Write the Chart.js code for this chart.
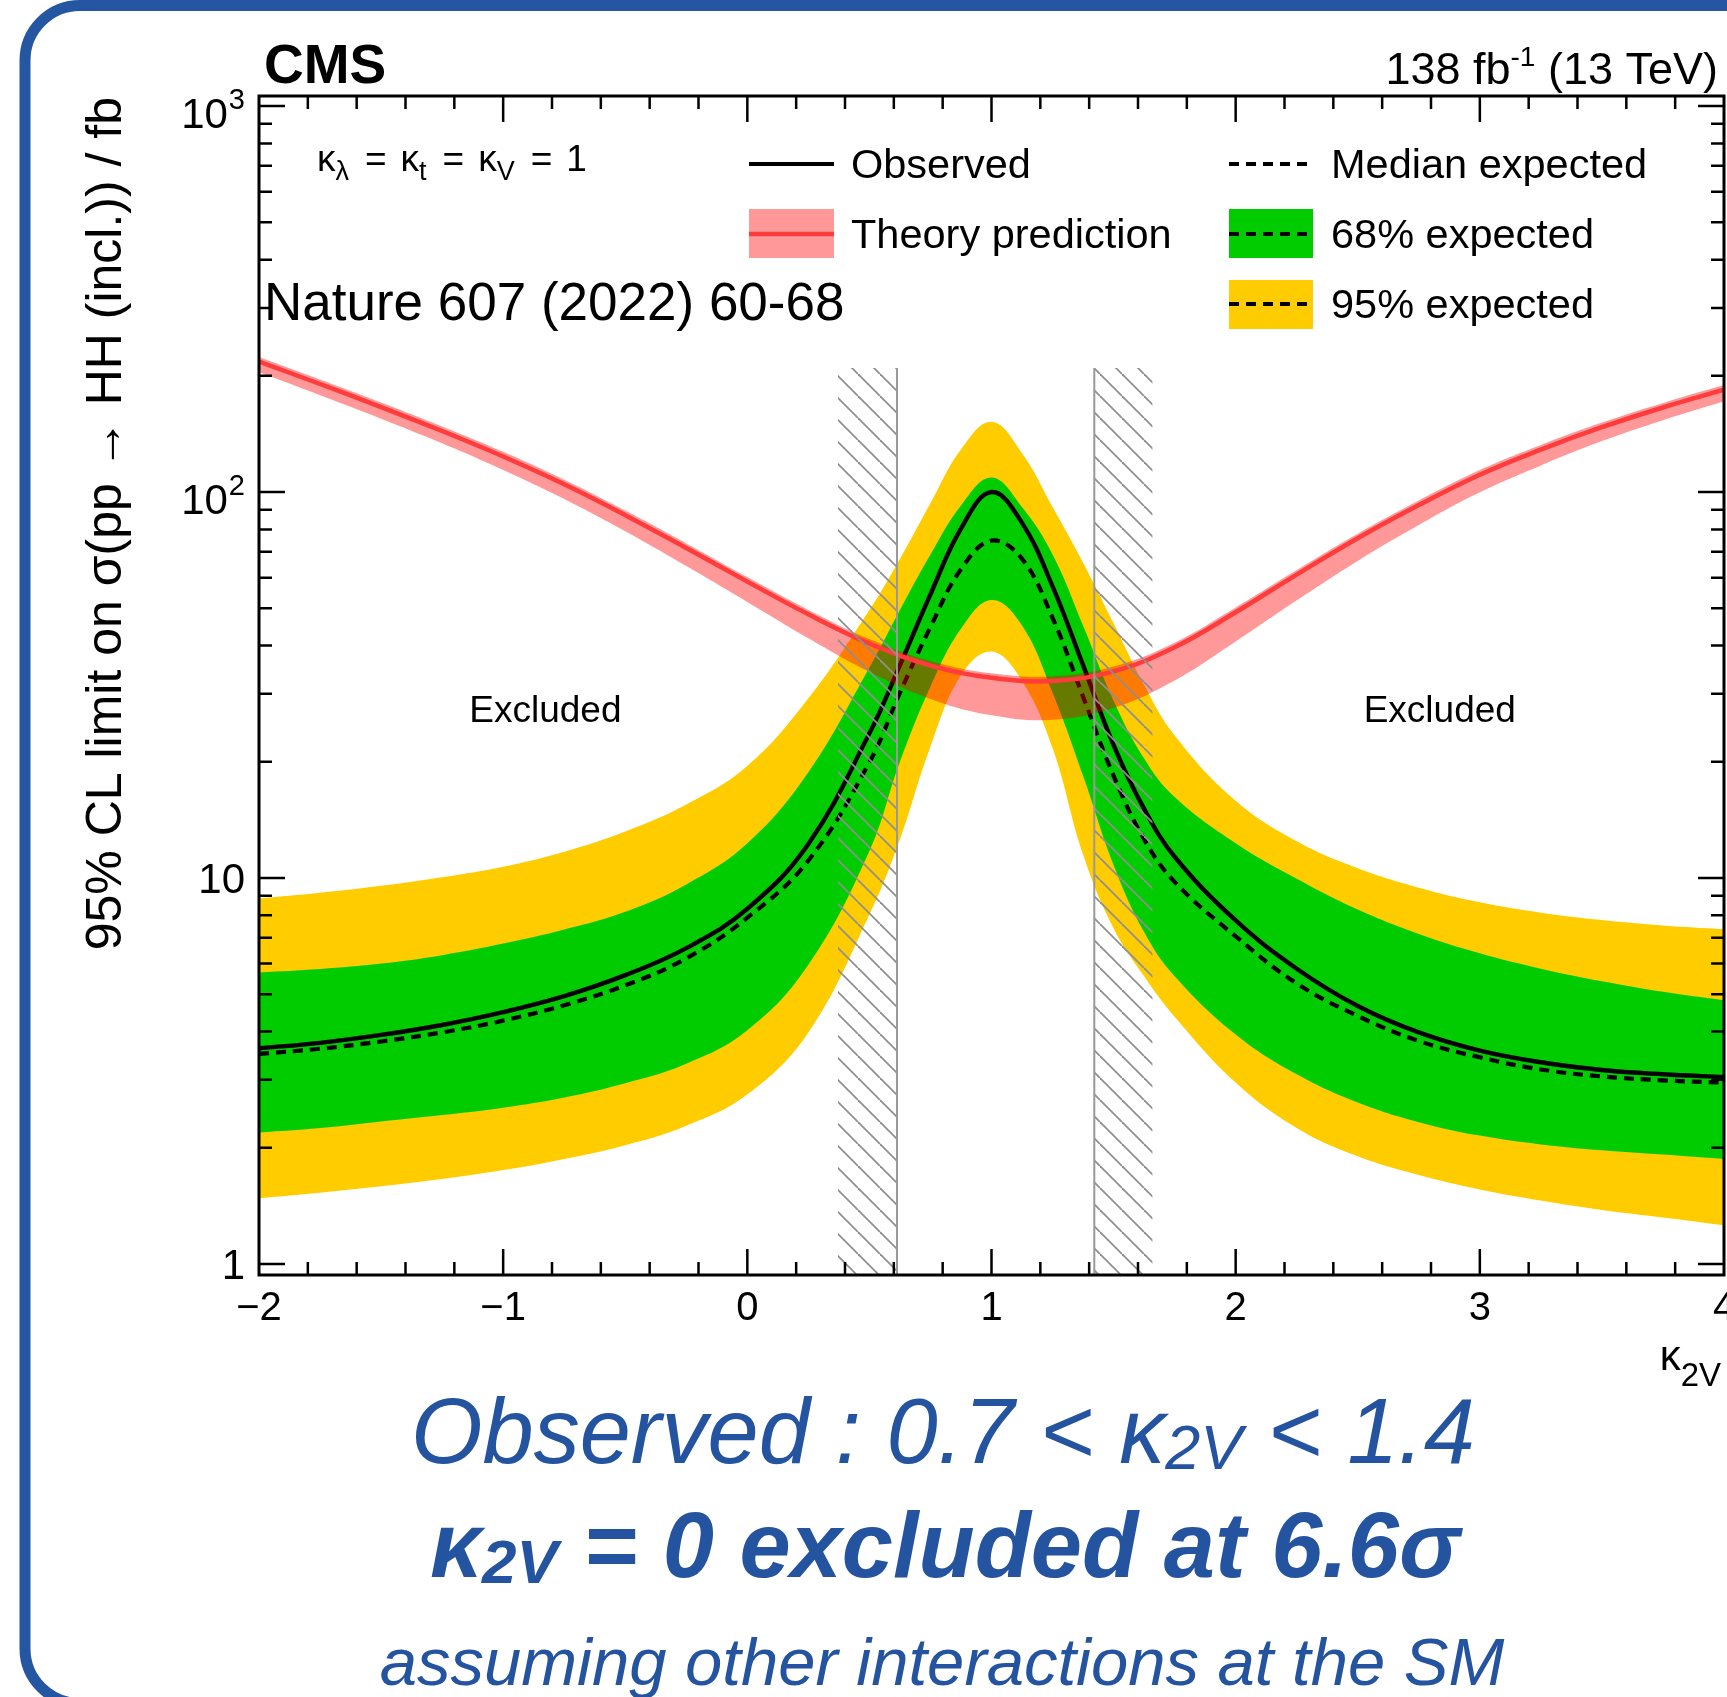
<!DOCTYPE html>
<html>
<head>
<meta charset="utf-8">
<title>HH limit vs kappa_2V</title>
<script src="https://cdn.jsdelivr.net/npm/chart.js@4.4.1/dist/chart.umd.min.js"></script>
<style>
  html, body { margin: 0; padding: 0; background: #fff; }
  #wrap { width: 1727px; height: 1697px; }
  canvas { display: block; }
</style>
</head>
<body>
<div id="wrap"><canvas id="limitChart" width="1727" height="1697"></canvas></div>
<script>
// --- DATA: 95% CL upper limits on sigma(pp -> HH) in fb vs kappa_2V ---
const kappa2V   = [-2, -1.75, -1.5, -1.25, -1, -0.75, -0.5, -0.25, 0, 0.25, 0.5, 0.625, 0.75, 0.875, 1,
                   1.125, 1.25, 1.375, 1.5, 1.625, 1.75, 2, 2.25, 2.5, 2.75, 3, 3.25, 3.5, 3.75, 4];
const observed  = [3.62, 3.74, 3.92, 4.16, 4.49, 4.94, 5.60, 6.58, 8.32, 12.25, 23.7, 35.6, 54.3, 80.4, 100,
                   83.2, 57.0, 35.6, 22.1, 15.1, 11.35, 7.76, 5.82, 4.66, 3.98, 3.57, 3.33, 3.18, 3.10, 3.05];
const expMedian = [3.50, 3.61, 3.77, 3.98, 4.27, 4.68, 5.27, 6.19, 7.89, 11.1, 19.95, 30.2, 44.7, 63.1, 74.8,
                   67.1, 47.2, 29.5, 18.4, 12.6, 9.77, 7.06, 5.33, 4.39, 3.78, 3.43, 3.19, 3.06, 2.99, 2.95];
const exp68Up   = [5.69, 5.81, 6.0, 6.31, 6.76, 7.35, 8.17, 9.62, 12.3, 18.8, 35.1, 49.5, 68.9, 92.3, 109,
                   91.4, 68.9, 45.1, 28.8, 20.4, 16.2, 12.3, 9.95, 8.28, 7.16, 6.38, 5.82, 5.40, 5.07, 4.82];
const exp68Down = [2.19, 2.25, 2.34, 2.43, 2.54, 2.70, 2.94, 3.30, 4.03, 5.96, 11.75, 20.0, 31.3, 44.2, 52.5,
                   45.1, 30.2, 18.4, 10.8, 7.24, 5.56, 3.93, 3.10, 2.62, 2.33, 2.15, 2.04, 1.97, 1.92, 1.87];
const exp95Up   = [8.85, 9.16, 9.55, 10.05, 10.7, 11.7, 13.2, 15.5, 19.5, 29.2, 49.5, 67.1, 93.5, 128.8, 152,
                   126, 91.4, 65.6, 45.7, 31.6, 23.4, 15.85, 12.45, 10.6, 9.44, 8.65, 8.13, 7.78, 7.53, 7.36];
const exp95Down = [1.48, 1.53, 1.59, 1.66, 1.75, 1.87, 2.03, 2.28, 2.75, 3.98, 8.04, 12.6, 21.9, 33.5, 38.6,
                   32.4, 21.7, 11.5, 7.41, 5.56, 4.37, 2.95, 2.25, 1.90, 1.70, 1.56, 1.46, 1.38, 1.32, 1.26];

// theory cross section (central value and uncertainty band)
const theoryKappa = [-2, -1.75, -1.5, -1.25, -1, -0.75, -0.5, -0.25, 0, 0.25, 0.5, 0.75, 1,
                     1.25, 1.5, 1.75, 2, 2.25, 2.5, 2.75, 3, 3.25, 3.5, 3.75, 4];
const theoryXs    = [217.8, 190.5, 166.0, 143.9, 123.6, 104.7, 87.1, 71.6, 58.6, 48.2, 40.5, 35.5, 33.0,
                     32.4, 34.3, 39.6, 48.8, 61.1, 75.9, 92.5, 110.9, 128.8, 147.2, 165.6, 184.1];
const theoryUp    = [223.9, 195.8, 170.6, 147.9, 127.1, 107.6, 89.5, 73.6, 60.2, 49.5, 41.6, 36.5, 33.9,
                     33.3, 35.3, 40.7, 50.2, 62.8, 78.0, 95.1, 114.0, 132.4, 151.3, 170.2, 189.3];
const theoryDown  = [204.2, 178.2, 154.9, 133.7, 114.0, 95.9, 79.1, 64.3, 51.9, 41.8, 34.2, 29.1, 26.4,
                     25.7, 27.6, 32.5, 41.0, 52.4, 66.3, 82.1, 99.8, 117.2, 135.5, 153.5, 171.8];

// observed crossing points and the hatched side of each
const excludedEdges = [0.613, 1.421];
const hatchLeft  = [0.371, 0.613];
const hatchRight = [1.421, 1.660];
const hatchTop   = 209.5;

// axes
const xRange = [-2, 4];
const yRange = [0.936, 1062];
const xTickLabels = ['\u22122', '\u22121', '0', '1', '2', '3', '4'];
const yMajorTicks = [1, 10, 100, 1000];
const yTickLabels = [['1', ''], ['10', ''], ['10', '2'], ['10', '3']];

const legendLeft  = ['Observed', 'Theory prediction'];
const legendRight = ['Median expected', '68% expected', '95% expected'];

// --- STYLE ---
const SANS = '"Liberation Sans", Arial, Helvetica, sans-serif';
const BLUE = '#2453a0';
const YELLOW = '#ffcc00';
const GREEN = '#00cc00';
const PINK = 'rgba(255, 0, 0, 0.4)';
const RED = '#ff3b3b';

function makeHatch() {
    const s = 22;
    const c = document.createElement('canvas');
    c.width = s; c.height = s;
    const g = c.getContext('2d');
    g.strokeStyle = '#8f8f8f';
    g.lineWidth = 1.8;
    for (const o of [-s, 0, s]) {
        g.beginPath();
        g.moveTo(o, 0);
        g.lineTo(o + s, s);
        g.stroke();
    }
    return g.createPattern(c, 'repeat');
}

const pts = (xs, ys) => xs.map((x, i) => ({ x: x, y: ys[i] }));
const curve = { pointRadius: 0, tension: 0.4, fill: false, borderWidth: 0 };
const hatch = makeHatch();

// --- TEXT HELPERS ---
function richWidth(ctx, parts) {
    let w = 0;
    for (const p of parts) { ctx.font = p.font; w += ctx.measureText(p.t).width + (p.dx || 0); }
    return w;
}

function drawRich(ctx, parts, x, y, align) {
    const w = richWidth(ctx, parts);
    let cx = align === 'right' ? x - w : (align === 'center' ? x - w / 2 : x);
    ctx.textAlign = 'left';
    ctx.textBaseline = 'alphabetic';
    for (const p of parts) {
        ctx.font = p.font;
        cx += p.dx || 0;
        ctx.fillText(p.t, cx, y + (p.dy || 0));
        cx += ctx.measureText(p.t).width;
    }
}

// --- FRAME, TICKS, LABELS ---
function drawSlideBorder(ctx) {
    ctx.save();
    ctx.strokeStyle = '#2556a1';
    ctx.lineWidth = 11;
    ctx.beginPath();
    ctx.roundRect(25, 5.5, 1800, 1698, 55);
    ctx.stroke();
    ctx.restore();
}

function drawFrameAndTicks(chart) {
    const { ctx, chartArea: a, scales } = chart;
    const sx = scales.x, sy = scales.y;
    ctx.save();
    ctx.strokeStyle = '#000';
    ctx.lineWidth = 2.5;
    ctx.beginPath();
    for (let i = 1; i < 30; i++) {
        const v = xRange[0] + i * 0.2;
        const px = sx.getPixelForValue(v);
        const len = i % 5 === 0 ? 26 : 13;
        ctx.moveTo(px, a.bottom); ctx.lineTo(px, a.bottom - len);
        ctx.moveTo(px, a.top); ctx.lineTo(px, a.top + len);
    }
    for (let d = 0; d <= 3; d++) {
        for (let m = 1; m <= 9; m++) {
            const v = m * Math.pow(10, d);
            if (v > yRange[1]) break;
            const py = sy.getPixelForValue(v);
            const len = m === 1 ? 26 : 13;
            ctx.moveTo(a.left, py); ctx.lineTo(a.left + len, py);
            ctx.moveTo(a.right, py); ctx.lineTo(a.right - len, py);
        }
    }
    ctx.stroke();
    ctx.lineWidth = 3;
    ctx.strokeRect(a.left, a.top, a.right - a.left, a.bottom - a.top);
    ctx.restore();
}

function drawLegend(ctx) {
    ctx.save();
    // observed
    ctx.strokeStyle = '#000'; ctx.lineWidth = 4.2;
    ctx.beginPath(); ctx.moveTo(749, 164); ctx.lineTo(834, 164); ctx.stroke();
    // theory
    ctx.fillStyle = PINK; ctx.fillRect(749, 209, 85, 49);
    ctx.strokeStyle = RED; ctx.lineWidth = 4.5;
    ctx.beginPath(); ctx.moveTo(749, 234); ctx.lineTo(834, 234); ctx.stroke();
    // expected
    ctx.fillStyle = GREEN; ctx.fillRect(1229, 209, 84, 49);
    ctx.fillStyle = YELLOW; ctx.fillRect(1229, 280, 84, 49);
    ctx.strokeStyle = '#000'; ctx.lineWidth = 4.2; ctx.setLineDash([10, 7]);
    for (const yy of [164, 234, 304]) {
        ctx.beginPath(); ctx.moveTo(1229, yy); ctx.lineTo(1313, yy); ctx.stroke();
    }
    ctx.setLineDash([]);
    ctx.fillStyle = '#000';
    ctx.font = `41.5px ${SANS}`; ctx.textAlign = 'left'; ctx.textBaseline = 'alphabetic';
    legendLeft.forEach((t, i) => ctx.fillText(t, 851, 178 + i * 70));
    legendRight.forEach((t, i) => ctx.fillText(t, 1331, 178 + i * 70));
    ctx.restore();
}

function drawTexts(chart) {
    const { ctx, chartArea: a, scales } = chart;
    const sx = scales.x, sy = scales.y;
    ctx.save();
    ctx.fillStyle = '#000';

    // x tick labels
    ctx.font = `40px ${SANS}`;
    ctx.textAlign = 'center'; ctx.textBaseline = 'alphabetic';
    xTickLabels.forEach((t, i) => ctx.fillText(t, sx.getPixelForValue(xRange[0] + i), 1320));

    // y tick labels
    yMajorTicks.forEach((v, i) => {
        const py = sy.getPixelForValue(v);
        const [base, sup] = yTickLabels[i];
        const parts = [{ t: base, font: `42px ${SANS}` }];
        if (sup) parts.push({ t: sup, font: `29px ${SANS}`, dy: -19, dx: 1 });
        drawRich(ctx, parts, a.left - 14, py + (sup ? 22 : 15), 'right');
    });

    // axis titles
    ctx.save();
    ctx.translate(121, a.top + 1);
    ctx.rotate(-Math.PI / 2);
    ctx.font = `50px ${SANS}`;
    ctx.textAlign = 'right'; ctx.textBaseline = 'alphabetic';
    ctx.fillText('95% CL limit on \u03c3(pp \u2192 HH (incl.)) / fb', 0, 0);
    ctx.restore();
    drawRich(ctx, [
        { t: '\u03ba', font: `42px ${SANS}` },
        { t: '2V', font: `33px ${SANS}`, dy: 16 }
    ], 1721, 1370, 'right');

    // experiment and luminosity labels
    ctx.font = `bold 55px ${SANS}`;
    ctx.textAlign = 'left';
    ctx.fillText('CMS', 264, 83);
    drawRich(ctx, [
        { t: '138 fb', font: `45px ${SANS}` },
        { t: '-1', font: `28px ${SANS}`, dy: -18 },
        { t: ' (13 TeV)', font: `45px ${SANS}` }
    ], 1718, 84, 'right');

    // coupling assumptions
    const main = `37px ${SANS}`, sub = `27px ${SANS}`;
    drawRich(ctx, [
        { t: '\u03ba', font: main }, { t: '\u03bb', font: sub, dy: 9 },
        { t: '=', font: main, dx: 16 }, { t: '\u03ba', font: main, dx: 14 }, { t: 't', font: sub, dy: 9 },
        { t: '=', font: main, dx: 16 }, { t: '\u03ba', font: main, dx: 14 }, { t: 'V', font: sub, dy: 9 },
        { t: '=', font: main, dx: 16 }, { t: '1', font: main, dx: 14 }
    ], 317, 171, 'left');

    ctx.font = `53px ${SANS}`;
    ctx.textAlign = 'left';
    ctx.fillText('Nature 607 (2022) 60-68', 264, 320);

    ctx.font = `37px ${SANS}`;
    ctx.textAlign = 'center';
    ctx.fillText('Excluded', sx.getPixelForValue(-0.827), sy.getPixelForValue(25.4));
    ctx.fillText('Excluded', sx.getPixelForValue(2.836), sy.getPixelForValue(25.4));

    drawLegend(ctx);

    // summary lines below the plot
    ctx.fillStyle = BLUE;
    drawRich(ctx, [
        { t: 'Observed : 0.7 < ', font: `italic 92px ${SANS}` },
        { t: '\u03ba', font: `italic 92px ${SANS}` },
        { t: '2V', font: `italic 63px ${SANS}`, dy: 6 },
        { t: ' < 1.4', font: `italic 92px ${SANS}` }
    ], 943, 1463, 'center');
    drawRich(ctx, [
        { t: '\u03ba', font: `bold italic 92px ${SANS}` },
        { t: '2V', font: `bold italic 62px ${SANS}`, dy: 6 },
        { t: ' = 0 excluded at 6.6\u03c3', font: `bold italic 92px ${SANS}` }
    ], 945, 1577, 'center');
    drawRich(ctx, [
        { t: 'assuming other interactions at the SM', font: `italic 67px ${SANS}` }
    ], 942, 1685, 'center');
    ctx.restore();
}

const framePlugin = {
    id: 'framePlugin',
    beforeDraw(chart) { drawSlideBorder(chart.ctx); },
    afterDatasetsDraw(chart) { drawFrameAndTicks(chart); },
    afterDraw(chart) { drawTexts(chart); }
};

// --- CHART ---
const ctx = document.getElementById('limitChart').getContext('2d');
const chartInstance = new Chart(ctx, {
    type: 'line',
    data: {
        datasets: [
            { label: '95% expected', data: pts(kappa2V, exp95Up), ...curve, fill: '+1', backgroundColor: YELLOW, order: 20 },
            { label: '95% lower', data: pts(kappa2V, exp95Down), ...curve, order: 19 },
            { label: '68% expected', data: pts(kappa2V, exp68Up), ...curve, fill: '+1', backgroundColor: GREEN, order: 18 },
            { label: '68% lower', data: pts(kappa2V, exp68Down), ...curve, order: 17 },
            { label: 'Median expected', data: pts(kappa2V, expMedian), ...curve, borderColor: '#000', borderWidth: 4.2, borderDash: [10, 7], order: 16 },
            { label: 'Observed', data: pts(kappa2V, observed), ...curve, borderColor: '#000', borderWidth: 4.4, order: 15 },
            { label: 'Theory band', data: pts(theoryKappa, theoryUp), ...curve, fill: '+1', backgroundColor: PINK, order: 14 },
            { label: 'Theory lower', data: pts(theoryKappa, theoryDown), ...curve, order: 13 },
            { label: 'Theory prediction', data: pts(theoryKappa, theoryXs), ...curve, borderColor: RED, borderWidth: 4.5, order: 12 },
            { label: 'Hatch left', data: [{ x: hatchLeft[0], y: hatchTop }, { x: hatchLeft[1], y: hatchTop }],
              pointRadius: 0, borderWidth: 0, fill: 'start', backgroundColor: hatch, order: 11 },
            { label: 'Hatch right', data: [{ x: hatchRight[0], y: hatchTop }, { x: hatchRight[1], y: hatchTop }],
              pointRadius: 0, borderWidth: 0, fill: 'start', backgroundColor: hatch, order: 10 },
            { label: 'Edge low', data: [{ x: excludedEdges[0], y: hatchTop }, { x: excludedEdges[0], y: yRange[0] }],
              pointRadius: 0, borderColor: '#999', borderWidth: 2, fill: false, order: 9 },
            { label: 'Edge high', data: [{ x: excludedEdges[1], y: hatchTop }, { x: excludedEdges[1], y: yRange[0] }],
              pointRadius: 0, borderColor: '#999', borderWidth: 2, fill: false, order: 8 }
        ]
    },
    options: {
        responsive: false,
        animation: false,
        devicePixelRatio: 1,
        layout: { padding: { left: 259, right: 3, top: 96, bottom: 422 } },
        plugins: { legend: { display: false }, tooltip: { enabled: false } },
        scales: {
            x: { type: 'linear', min: xRange[0], max: xRange[1], bounds: 'data', display: false },
            y: { type: 'logarithmic', min: yRange[0], max: yRange[1], bounds: 'data', display: false }
        }
    },
    plugins: [framePlugin]
});
</script>
</body>
</html>
